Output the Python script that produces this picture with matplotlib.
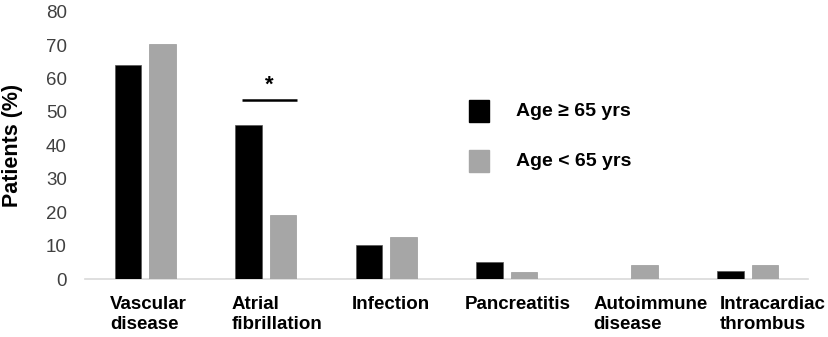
import matplotlib
matplotlib.use("Agg")
import matplotlib.pyplot as plt
from matplotlib.patches import Rectangle
import matplotlib.transforms as mtransforms
import numpy as np

categories = ["Vascular\ndisease", "Atrial\nfibrillation", "Infection", "Pancreatitis",
              "Autoimmune\ndisease", "Intracardiac\nthrombus"]
age_ge65 = [64.2, 46.2, 10.2, 5.0, 0.0, 2.5]
age_lt65 = [70.5, 19.1, 12.7, 2.2, 4.1, 4.1]
series_labels = ["Age \u2265 65 yrs", "Age < 65 yrs"]
yticks = [0, 10, 20, 30, 40, 50, 60, 70, 80]

# layout (not data): label left-edge offsets in category units
label_dx = [-0.29, -0.28, -0.29, -0.345, -0.28, -0.23]

plt.rcParams['font.family'] = ['Liberation Sans', 'DejaVu Sans']

W, H = 829, 337
fig = plt.figure(figsize=(W / 100, H / 100), dpi=100)
ax = fig.add_axes([85 / W, 1 - 279 / H, 723 / W, 267.2 / H])

x = np.arange(len(categories))
bw = 0.22
off = 0.142
black = "#000000"
gray = "#A6A6A6"
ax.bar(x - off, age_ge65, bw, color=black, edgecolor="#555555", linewidth=0.5, zorder=3)
ax.bar(x + off, age_lt65, bw, color=gray, edgecolor="#999999", linewidth=0.5, zorder=3)

ax.set_xlim(-0.5, len(categories) - 0.5)
ax.set_ylim(0, 80)
ax.set_yticks(yticks)
ax.set_yticklabels([str(v) for v in yticks], fontsize=13.5, color="#404040")
ax.tick_params(axis='y', length=0, pad=13)
ax.set_xticks([])
for s in ["top", "right", "left"]:
    ax.spines[s].set_visible(False)
ax.spines["bottom"].set_color("#D9D9D9")
ax.spines["bottom"].set_linewidth(1.2)

# category labels
trans = mtransforms.offset_copy(ax.get_xaxis_transform(), fig=fig, x=0, y=-17, units='dots')
for i, lab in enumerate(categories):
    ax.text(i + label_dx[i], 0, lab, transform=trans, ha='left', va='top',
            fontsize=13.5, fontweight='bold', linespacing=1.25)

fig.text(13 / W, 1 - 145 / H, "Patients (%)", rotation=90, ha='center', va='center',
         fontsize=15.5, fontweight='bold')

# significance marker
ax.plot([0.80, 1.262], [53.6, 53.6], color="black", lw=1.8, solid_capstyle='butt')
ax.text(1.03, 58.0, "*", ha='center', va='center', fontsize=16, fontweight='bold')

# manual legend
for (ytop, col, lab) in [(100, black, series_labels[0]), (150, gray, series_labels[1])]:
    fig.patches.append(Rectangle((469 / W, 1 - (ytop + 22) / H), 20 / W, 22 / H,
                                 transform=fig.transFigure, color=col, figure=fig))
    fig.text(516.5 / W, 1 - (ytop + 11.5) / H, lab, ha='left', va='center',
             fontsize=14, fontweight='bold')

fig.savefig("out.png", dpi=100)
